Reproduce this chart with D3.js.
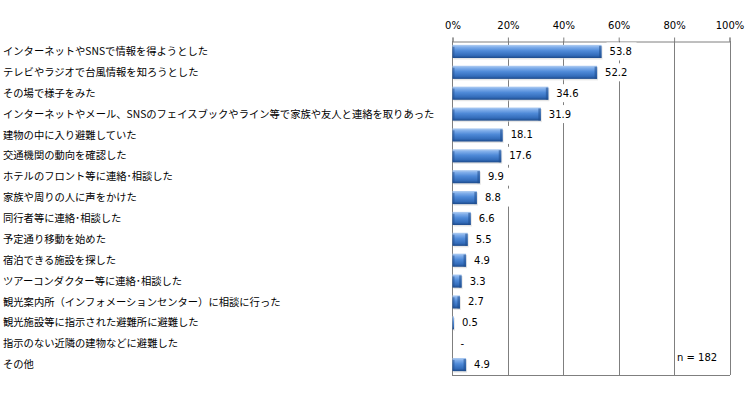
<!DOCTYPE html>
<html>
<head>
<meta charset="utf-8">
<script src="https://cdn.jsdelivr.net/npm/d3@7"></script>
<style>
  body { margin:0; background:#fff; }
  svg { display:block; }
  .cat { font-family:"Noto Sans CJK JP", sans-serif; font-size:10.3px; fill:#000; }
  .num { font-family:"DejaVu Sans", sans-serif; font-size:10px; fill:#000; }
</style>
</head>
<body>
<svg id="chart" width="748" height="397"></svg>
<script>
const categories = [
  "インターネットやSNSで情報を得ようとした",
  "テレビやラジオで台風情報を知ろうとした",
  "その場で様子をみた",
  "インターネットやメール、SNSのフェイスブックやライン等で家族や友人と連絡を取りあった",
  "建物の中に入り避難していた",
  "交通機関の動向を確認した",
  "ホテルのフロント等に連絡･相談した",
  "家族や周りの人に声をかけた",
  "同行者等に連絡･相談した",
  "予定通り移動を始めた",
  "宿泊できる施設を探した",
  "ツアーコンダクター等に連絡･相談した",
  "観光案内所（インフォメーションセンター）に相談に行った",
  "観光施設等に指示された避難所に避難した",
  "指示のない近隣の建物などに避難した",
  "その他"
];
const values = [53.8, 52.2, 34.6, 31.9, 18.1, 17.6, 9.9, 8.8, 6.6, 5.5, 4.9, 3.3, 2.7, 0.5, null, 4.9];
const ticks = [0, 20, 40, 60, 80, 100];
const sampleNote = "n = 182";

const rows = categories.map((c, i) => ({ cat: c, v: values[i] }));

const svg = d3.select("#chart");
const mLeft = 452.5, mRight = 729.5, mTop = 41, mBottom = 375;

const x = d3.scaleLinear().domain([0, 100]).range([mLeft, mRight]);
const y = d3.scaleBand().domain(categories).range([mTop, mBottom]).paddingInner(0.37).paddingOuter(0.185);

// gradient for the bevelled bars
const defs = svg.append("defs");
const gr = defs.append("linearGradient").attr("id", "barGrad").attr("x1", 0).attr("y1", 0).attr("x2", 0).attr("y2", 1);
gr.append("stop").attr("offset", "0%").attr("stop-color", "#b3cff2");
gr.append("stop").attr("offset", "18%").attr("stop-color", "#7fadea");
gr.append("stop").attr("offset", "45%").attr("stop-color", "#4f8ad8");
gr.append("stop").attr("offset", "80%").attr("stop-color", "#336cba");
gr.append("stop").attr("offset", "100%").attr("stop-color", "#1d4a8a");

// gridlines
svg.append("g").selectAll("line").data(ticks.slice(1)).enter().append("line")
  .attr("x1", d => Math.round(x(d)) + 0.5).attr("x2", d => Math.round(x(d)) + 0.5)
  .attr("y1", mTop).attr("y2", mBottom)
  .attr("stroke", "#7f7f7f").attr("stroke-width", 1);

// bottom border
svg.append("line").attr("x1", mLeft).attr("x2", mRight + 0.5).attr("y1", mBottom + 0.5).attr("y2", mBottom + 0.5)
  .attr("stroke", "#7f7f7f");

// top axis
const axis = svg.append("g").attr("transform", `translate(0,${mTop + 0.5})`)
  .call(d3.axisTop(x).tickValues(ticks).tickFormat(d => d + "%").tickSize(4).tickPadding(9));
axis.selectAll("path,line").attr("stroke", "#7f7f7f");
axis.selectAll("text").attr("class", "num");
axis.attr("font-family", null).attr("font-size", null);

// left axis line
svg.append("line").attr("x1", mLeft).attr("x2", mLeft).attr("y1", mTop).attr("y2", mBottom + 1)
  .attr("stroke", "#7f7f7f");

// category labels
svg.append("g").selectAll("text").data(rows).enter().append("text")
  .attr("class", "cat")
  .attr("x", 3).attr("y", d => y(d.cat) + y.bandwidth() / 2)
  .attr("dy", "0.35em")
  .text(d => d.cat);

// bars
const barG = svg.append("g").selectAll("g").data(rows.filter(d => d.v)).enter().append("g");
barG.append("rect")
  .attr("x", mLeft + 1).attr("y", d => y(d.cat) + 1.5)
  .attr("width", d => Math.max(1, x(d.v) - mLeft)).attr("height", y.bandwidth())
  .attr("fill", "#d6d6d6").attr("opacity", 0.6);
barG.append("rect")
  .attr("x", mLeft).attr("y", d => y(d.cat))
  .attr("width", d => Math.max(1.5, x(d.v) - mLeft)).attr("height", y.bandwidth())
  .attr("fill", "url(#barGrad)");
barG.filter(d => x(d.v) - mLeft > 6).append("rect")
  .attr("x", d => x(d.v) - 2.5).attr("y", d => y(d.cat) + 1)
  .attr("width", 2.5).attr("height", y.bandwidth() - 1)
  .attr("fill", "#1f4c8c").attr("opacity", 0.55);
barG.filter(d => x(d.v) - mLeft > 6).append("rect")
  .attr("x", mLeft).attr("y", d => y(d.cat) + 2)
  .attr("width", 2).attr("height", y.bandwidth() - 3)
  .attr("fill", "#1f4c8c").attr("opacity", 0.5);

// value labels with white boxes
const lab = svg.append("g").selectAll("g").data(rows).enter().append("g")
  .attr("transform", d => `translate(${x(d.v || 0) + 8},${y(d.cat) + y.bandwidth() / 2})`);
lab.append("rect")
  .attr("x", -3).attr("y", -9)
  .attr("width", d => (d.v == null ? 6 : 24) + 6).attr("height", 18)
  .attr("fill", "#fff");
lab.append("text").attr("class", "num").attr("dy", "0.35em")
  .text(d => d.v == null ? "-" : d3.format(".1f")(d.v));

// sample size note
svg.append("text").attr("class", "num")
  .attr("x", 677).attr("y", 357).attr("dy", "0.35em")
  .text(sampleNote);
</script>
</body>
</html>
